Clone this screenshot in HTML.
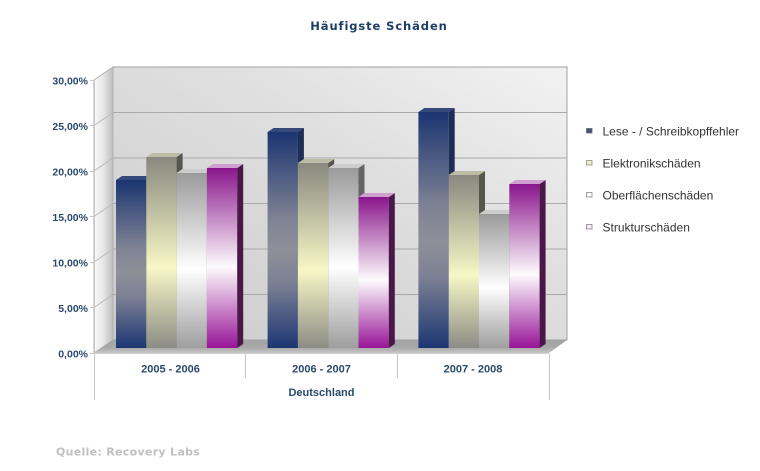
<!DOCTYPE html>
<html><head><meta charset="utf-8"><style>
html,body{margin:0;padding:0;background:#fff;}
svg{display:block;}
</style></head><body>
<svg width="760" height="471" viewBox="0 0 760 471" xmlns="http://www.w3.org/2000/svg">
<defs>
<linearGradient id="wall" x1="0" y1="1" x2="1" y2="0">
<stop offset="0" stop-color="#cbcbcb"/><stop offset="0.6" stop-color="#dfdfdf"/><stop offset="1" stop-color="#f2f2f2"/>
</linearGradient>
<linearGradient id="side" x1="0" y1="0" x2="1" y2="0">
<stop offset="0" stop-color="#fafafa"/><stop offset="0.5" stop-color="#e6e6e6"/><stop offset="1" stop-color="#bdbdbd"/>
</linearGradient>
<linearGradient id="floor" x1="0" y1="0" x2="0" y2="1">
<stop offset="0" stop-color="#a3a3a3"/><stop offset="0.6" stop-color="#a9a9a9"/><stop offset="1" stop-color="#c6c6c6"/>
</linearGradient>
<linearGradient id="gB" x1="0" y1="0" x2="0" y2="1">
<stop offset="0" stop-color="#1b3571"/><stop offset="0.4" stop-color="#7e8294"/><stop offset="0.55" stop-color="#8e9098"/><stop offset="0.7" stop-color="#7c8094"/><stop offset="1" stop-color="#1c3672"/>
</linearGradient>
<linearGradient id="gY" x1="0" y1="0" x2="0" y2="1">
<stop offset="0" stop-color="#88887f"/><stop offset="0.58" stop-color="#f7f7c6"/><stop offset="1" stop-color="#8c8c85"/>
</linearGradient>
<linearGradient id="gW" x1="0" y1="0" x2="0" y2="1">
<stop offset="0" stop-color="#9a9a9a"/><stop offset="0.55" stop-color="#ffffff"/><stop offset="1" stop-color="#9e9e9e"/>
</linearGradient>
<linearGradient id="gM" x1="0" y1="0" x2="0" y2="1">
<stop offset="0" stop-color="#8a168c"/><stop offset="0.55" stop-color="#fdfbfd"/><stop offset="1" stop-color="#981498"/>
</linearGradient>
</defs>

<text x="379" y="30" text-anchor="middle" font-family="DejaVu Sans, Liberation Sans, sans-serif" font-weight="bold" font-size="11.5" letter-spacing="0.9" fill="#1e3e66">Häufigste Schäden</text>

<rect x="113" y="67" width="454" height="273" fill="url(#wall)" stroke="#a0a0a0" stroke-width="1"/>
<g stroke="#a9a9a9" stroke-width="1">
<line x1="113" y1="112.5" x2="567" y2="112.5"/>
<line x1="113" y1="158" x2="567" y2="158"/>
<line x1="113" y1="203.5" x2="567" y2="203.5"/>
<line x1="113" y1="249" x2="567" y2="249"/>
<line x1="113" y1="294.5" x2="567" y2="294.5"/>
</g>
<polygon points="94,80 113,67 113,340 94,353" fill="url(#side)" stroke="#b0b0b0" stroke-width="1"/>
<g stroke="#b8b8b8" stroke-width="1">
<line x1="94" y1="125.5" x2="113" y2="112.5"/>
<line x1="94" y1="171" x2="113" y2="158"/>
<line x1="94" y1="216.5" x2="113" y2="203.5"/>
<line x1="94" y1="262" x2="113" y2="249"/>
<line x1="94" y1="307.5" x2="113" y2="294.5"/>
</g>
<polygon points="94,353 113,340 567,340 549,353" fill="url(#floor)"/>
<line x1="94" y1="353.5" x2="549" y2="353.5" stroke="#d0d0d0" stroke-width="1"/>

<g stroke="#c8c8c8" stroke-width="1">
<line x1="94.5" y1="80" x2="94.5" y2="400"/>
<line x1="245.5" y1="354" x2="245.5" y2="378"/>
<line x1="397.5" y1="354" x2="397.5" y2="378"/>
<line x1="549.5" y1="354" x2="549.5" y2="400"/>
</g>
<g stroke="#c8c8c8" stroke-width="1">
<line x1="90" y1="80.5" x2="94" y2="80.5"/>
<line x1="90" y1="125.5" x2="94" y2="125.5"/>
<line x1="90" y1="171.5" x2="94" y2="171.5"/>
<line x1="90" y1="216.5" x2="94" y2="216.5"/>
<line x1="90" y1="262.5" x2="94" y2="262.5"/>
<line x1="90" y1="307.5" x2="94" y2="307.5"/>
<line x1="90" y1="353.5" x2="94" y2="353.5"/>
</g>

<g font-family="Liberation Sans, Arial, sans-serif" font-weight="bold" font-size="10.5" fill="#2c4a6b" text-anchor="end">
<text x="88" y="84.5">30,00%</text>
<text x="88" y="130">25,00%</text>
<text x="88" y="175.5">20,00%</text>
<text x="88" y="221">15,00%</text>
<text x="88" y="266.5">10,00%</text>
<text x="88" y="312">5,00%</text>
<text x="88" y="357.5">0,00%</text>
</g>

<g>
<rect x="116" y="180" width="30.3" height="168" fill="url(#gB)"/>
<polygon points="146.3,180 152.3,176 152.3,344 146.3,348" fill="#1e2d55"/>
<polygon points="116,180 122,176 152.3,176 146.3,180" fill="#34497a"/>

<rect x="146.3" y="157" width="30.3" height="191" fill="url(#gY)"/>
<polygon points="176.6,157 182.6,153 182.6,344 176.6,348" fill="#56564e"/>
<polygon points="146.3,157 152.3,153 182.6,153 176.6,157" fill="#bdbda6"/>

<rect x="176.6" y="173" width="30.3" height="175" fill="url(#gW)"/>
<polygon points="206.9,173 212.9,169 212.9,344 206.9,348" fill="#656565"/>
<polygon points="176.6,173 182.6,169 212.9,169 206.9,173" fill="#cccccc"/>

<rect x="206.9" y="168" width="30.3" height="180" fill="url(#gM)"/>
<polygon points="237.2,168 243.2,164 243.2,344 237.2,348" fill="#4a1848"/>
<polygon points="206.9,168 212.9,164 243.2,164 237.2,168" fill="#cf9fcf"/>
</g>
<g>
<rect x="267.6" y="132" width="30.3" height="216" fill="url(#gB)"/>
<polygon points="297.9,132 303.9,128 303.9,344 297.9,348" fill="#1e2d55"/>
<polygon points="267.6,132 273.6,128 303.9,128 297.9,132" fill="#34497a"/>

<rect x="297.9" y="163" width="30.3" height="185" fill="url(#gY)"/>
<polygon points="328.2,163 334.2,159 334.2,344 328.2,348" fill="#56564e"/>
<polygon points="297.9,163 303.9,159 334.2,159 328.2,163" fill="#bdbda6"/>

<rect x="328.2" y="168" width="30.3" height="180" fill="url(#gW)"/>
<polygon points="358.5,168 364.5,164 364.5,344 358.5,348" fill="#656565"/>
<polygon points="328.2,168 334.2,164 364.5,164 358.5,168" fill="#cccccc"/>

<rect x="358.5" y="197" width="30.3" height="151" fill="url(#gM)"/>
<polygon points="388.8,197 394.8,193 394.8,344 388.8,348" fill="#4a1848"/>
<polygon points="358.5,197 364.5,193 394.8,193 388.8,197" fill="#cf9fcf"/>
</g>
<g>
<rect x="418.4" y="112" width="30.3" height="236" fill="url(#gB)"/>
<polygon points="448.7,112 454.7,108 454.7,344 448.7,348" fill="#1e2d55"/>
<polygon points="418.4,112 424.4,108 454.7,108 448.7,112" fill="#34497a"/>

<rect x="448.7" y="175" width="30.3" height="173" fill="url(#gY)"/>
<polygon points="479,175 485,171 485,344 479,348" fill="#56564e"/>
<polygon points="448.7,175 454.7,171 485,171 479,175" fill="#bdbda6"/>

<rect x="479" y="214" width="30.3" height="134" fill="url(#gW)"/>
<polygon points="509.3,214 515.3,210 515.3,344 509.3,348" fill="#656565"/>
<polygon points="479,214 485,210 515.3,210 509.3,214" fill="#cccccc"/>

<rect x="509.3" y="184" width="30.3" height="164" fill="url(#gM)"/>
<polygon points="539.6,184 545.6,180 545.6,344 539.6,348" fill="#4a1848"/>
<polygon points="509.3,184 515.3,180 545.6,180 539.6,184" fill="#cf9fcf"/>
</g>

<g font-family="Liberation Sans, Arial, sans-serif" font-weight="bold" font-size="11" fill="#2c4a6b" text-anchor="middle">
<text x="170.5" y="372.5">2005 - 2006</text>
<text x="321.5" y="372.5">2006 - 2007</text>
<text x="473" y="372.5">2007 - 2008</text>
<text x="321.5" y="396">Deutschland</text>
</g>

<g>
<rect x="586.5" y="128.5" width="5.5" height="4.5" fill="#4a5274" stroke="#6a6a80" stroke-width="0.8"/>
<rect x="586.5" y="160.5" width="5.5" height="4.5" fill="#eeeec4" stroke="#8a8a80" stroke-width="0.8"/>
<rect x="586.5" y="192.5" width="5.5" height="4.5" fill="#f8f8f8" stroke="#8a8a8a" stroke-width="0.8"/>
<rect x="586.5" y="224.5" width="5.5" height="4.5" fill="#f4ecf4" stroke="#8a808a" stroke-width="0.8"/>
</g>
<g font-family="Liberation Sans, Arial, sans-serif" font-size="12" fill="#333">
<text x="602.5" y="135.5">Lese - / Schreibkopffehler</text>
<text x="602.5" y="167.5">Elektronikschäden</text>
<text x="602.5" y="199.5">Oberflächenschäden</text>
<text x="602.5" y="231.5">Strukturschäden</text>
</g>

<text x="56" y="455.5" font-family="DejaVu Sans, Liberation Sans, sans-serif" font-weight="bold" font-size="11" letter-spacing="0.3" fill="#c0c0c0">Quelle: Recovery Labs</text>
</svg>
</body></html>
